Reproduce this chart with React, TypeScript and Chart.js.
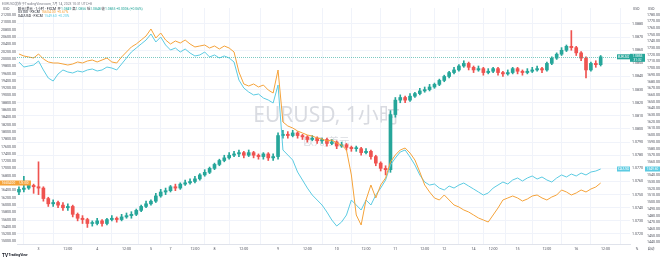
import { useEffect, useRef } from "react";
import { Chart, registerables } from "chart.js";
Chart.register(...registerables);

// ---------- data ----------
const X_TICKS = [4, 10, 16, 22, 27, 31, 36, 40, 46, 53, 59, 65, 71, 77, 83, 87, 93, 97, 102, 108, 114, 120];
const X_LABELS = ["3", "12:00", "4", "12:00", "5", "7", "12:00", "8", "12:00", "9", "12:00", "10", "12:00", "11", "12:00", "12", "14", "12:00", "15", "12:00", "16", "12:00"];

const OPEN = [
  1.0752, 1.0754, 1.0755, 1.0757, 1.0756, 1.0755, 1.0747, 1.0743, 1.0744, 1.0742,
  1.0740, 1.0741, 1.0735, 1.0732, 1.0731, 1.0728, 1.0728, 1.0730, 1.0728, 1.0731,
  1.0732, 1.0731, 1.0733, 1.0734, 1.0735, 1.0738, 1.0741, 1.0743, 1.0745, 1.0749,
  1.0752, 1.0753, 1.0756, 1.0755, 1.0758, 1.0759, 1.0760, 1.0762, 1.0765, 1.0767,
  1.0770, 1.0773, 1.0776, 1.0778, 1.0780, 1.0781, 1.0782, 1.0780, 1.0782, 1.0780,
  1.0779, 1.0781, 1.0778, 1.0779, 1.0795, 1.0796, 1.0795, 1.0797, 1.0795, 1.0794,
  1.0792, 1.0793, 1.0791, 1.0792, 1.0789, 1.0790, 1.0787, 1.0788, 1.0786, 1.0785,
  1.0785, 1.0782, 1.0783, 1.0779, 1.0774, 1.0770, 1.0769, 1.0811, 1.0822, 1.0824,
  1.0822, 1.0825, 1.0827, 1.0829, 1.0830, 1.0832, 1.0834, 1.0837, 1.0840, 1.0843,
  1.0845, 1.0848, 1.0850, 1.0847, 1.0845, 1.0846, 1.0843, 1.0844, 1.0846, 1.0843,
  1.0842, 1.0843, 1.0846, 1.0844, 1.0843, 1.0844, 1.0845, 1.0846, 1.0845, 1.0850,
  1.0854, 1.0857, 1.0860, 1.0863, 1.0862, 1.0858, 1.0854, 1.0845, 1.0850, 1.0849,
];
const CLOSE = [
  1.0754, 1.0755, 1.0757, 1.0756, 1.0755, 1.0747, 1.0743, 1.0744, 1.0742, 1.0740,
  1.0741, 1.0735, 1.0732, 1.0731, 1.0728, 1.0728, 1.0730, 1.0728, 1.0731, 1.0732,
  1.0731, 1.0733, 1.0734, 1.0735, 1.0738, 1.0741, 1.0743, 1.0745, 1.0749, 1.0752,
  1.0753, 1.0756, 1.0755, 1.0758, 1.0759, 1.0760, 1.0762, 1.0765, 1.0767, 1.0770,
  1.0773, 1.0776, 1.0778, 1.0780, 1.0781, 1.0782, 1.0780, 1.0782, 1.0780, 1.0779,
  1.0781, 1.0778, 1.0779, 1.0795, 1.0796, 1.0795, 1.0797, 1.0795, 1.0794, 1.0792,
  1.0793, 1.0791, 1.0792, 1.0789, 1.0790, 1.0787, 1.0788, 1.0786, 1.0785, 1.0785,
  1.0782, 1.0783, 1.0779, 1.0774, 1.0770, 1.0769, 1.0811, 1.0822, 1.0824, 1.0822,
  1.0825, 1.0827, 1.0829, 1.0830, 1.0832, 1.0834, 1.0837, 1.0840, 1.0843, 1.0845,
  1.0848, 1.0850, 1.0847, 1.0845, 1.0846, 1.0843, 1.0844, 1.0846, 1.0843, 1.0842,
  1.0843, 1.0846, 1.0844, 1.0843, 1.0844, 1.0845, 1.0846, 1.0845, 1.0850, 1.0854,
  1.0857, 1.0860, 1.0863, 1.0862, 1.0858, 1.0854, 1.0845, 1.0850, 1.0849, 1.0855,
];
const HIGH = [
  1.0756, 1.0764, 1.0760, 1.0758, 1.0775, 1.0756, 1.0748, 1.0746, 1.0745, 1.0744,
  1.0743, 1.0742, 1.0736, 1.0734, 1.0732, 1.0730, 1.0732, 1.0731, 1.0732, 1.0734,
  1.0733, 1.0735, 1.0736, 1.0737, 1.0739, 1.0742, 1.0745, 1.0746, 1.0751, 1.0754,
  1.0755, 1.0757, 1.0758, 1.0759, 1.0761, 1.0762, 1.0764, 1.0766, 1.0769, 1.0771,
  1.0774, 1.0777, 1.0780, 1.0782, 1.0783, 1.0784, 1.0783, 1.0784, 1.0783, 1.0781,
  1.0782, 1.0782, 1.0781, 1.0797, 1.0799, 1.0798, 1.0799, 1.0798, 1.0796, 1.0795,
  1.0795, 1.0794, 1.0793, 1.0793, 1.0792, 1.0791, 1.0790, 1.0789, 1.0787, 1.0787,
  1.0786, 1.0785, 1.0784, 1.0780, 1.0775, 1.0772, 1.0814, 1.0824, 1.0826, 1.0825,
  1.0827, 1.0828, 1.0831, 1.0832, 1.0834, 1.0835, 1.0838, 1.0841, 1.0844, 1.0847,
  1.0849, 1.0852, 1.0851, 1.0848, 1.0848, 1.0847, 1.0846, 1.0847, 1.0847, 1.0844,
  1.0845, 1.0847, 1.0847, 1.0845, 1.0846, 1.0847, 1.0848, 1.0847, 1.0851, 1.0855,
  1.0858, 1.0862, 1.0864, 1.0875, 1.0863, 1.0859, 1.0855, 1.0851, 1.0852, 1.0856,
];
const LOW = [
  1.0750, 1.0752, 1.0754, 1.0751, 1.0750, 1.0745, 1.0741, 1.0741, 1.0740, 1.0738,
  1.0738, 1.0733, 1.0730, 1.0728, 1.0725, 1.0726, 1.0727, 1.0726, 1.0727, 1.0730,
  1.0729, 1.0730, 1.0732, 1.0732, 1.0734, 1.0737, 1.0740, 1.0742, 1.0744, 1.0748,
  1.0750, 1.0752, 1.0753, 1.0754, 1.0757, 1.0758, 1.0759, 1.0761, 1.0764, 1.0766,
  1.0769, 1.0772, 1.0775, 1.0777, 1.0779, 1.0779, 1.0778, 1.0779, 1.0778, 1.0777,
  1.0777, 1.0776, 1.0776, 1.0777, 1.0793, 1.0793, 1.0794, 1.0793, 1.0792, 1.0790,
  1.0791, 1.0789, 1.0789, 1.0787, 1.0788, 1.0785, 1.0786, 1.0784, 1.0783, 1.0783,
  1.0780, 1.0781, 1.0777, 1.0772, 1.0768, 1.0765, 1.0767, 1.0809, 1.0820, 1.0820,
  1.0821, 1.0824, 1.0826, 1.0828, 1.0829, 1.0831, 1.0833, 1.0836, 1.0839, 1.0842,
  1.0844, 1.0847, 1.0845, 1.0843, 1.0844, 1.0841, 1.0842, 1.0843, 1.0841, 1.0840,
  1.0841, 1.0842, 1.0842, 1.0841, 1.0842, 1.0843, 1.0844, 1.0843, 1.0844, 1.0849,
  1.0853, 1.0856, 1.0859, 1.0860, 1.0856, 1.0852, 1.0839, 1.0844, 1.0847, 1.0848,
];
const ORANGE = [
  20139, 20084, 20057, 20029, 20139, 20002, 19920, 19892, 19892, 19865,
  19837, 19865, 19920, 19892, 19947, 19974, 19920, 19974, 20029, 19920,
  19892, 20057, 20194, 20331, 20413, 20522, 20632, 20824, 20577, 20714,
  20522, 20413, 20495, 20440, 20522, 20413, 20331, 20358, 20385, 20303,
  20358, 20276, 20358, 20303, 20194, 19646, 19317, 19262, 19317, 19235,
  19289, 19152, 19070, 19700, 18276, 18166, 18111, 18029, 17974, 17920,
  17892, 17837, 17810, 17755, 17783, 17700, 17646, 17509, 16824, 15728,
  15454, 16139, 16550, 16194, 16550, 16742, 17180, 17372, 17509, 17563,
  17426, 17235, 16906, 16550, 16358, 16194, 16139, 16276, 16139, 16002,
  15947, 15865, 15810, 15728, 15646, 15591, 15536, 15728, 15920, 16139,
  16194, 16248, 16194, 16111, 16166, 16248, 16276, 16194, 16139, 16221,
  16276, 16413, 16358, 16276, 16331, 16413, 16358, 16440, 16495, 16604,
];
const CYAN = [
  1709.3, 1701.8, 1703.3, 1704.8, 1710.8, 1697.4, 1685.4, 1680.9, 1691.4, 1697.4,
  1694.4, 1692.9, 1695.9, 1694.4, 1697.4, 1698.9, 1695.9, 1697.4, 1701.8, 1700.3,
  1697.4, 1706.3, 1715.3, 1724.2, 1730.2, 1736.2, 1742.1, 1751.1, 1739.2, 1746.6,
  1734.7, 1727.2, 1730.2, 1724.2, 1728.7, 1722.7, 1718.3, 1719.8, 1724.2, 1716.8,
  1719.8, 1715.3, 1718.3, 1715.3, 1709.3, 1682.4, 1670.5, 1664.5, 1660.1, 1661.5,
  1655.6, 1652.6, 1648.1, 1675.0, 1578.0, 1570.5, 1563.0, 1545.1, 1533.2, 1521.2,
  1510.8, 1503.3, 1495.9, 1485.4, 1473.5, 1464.5, 1470.5, 1481.0, 1503.3, 1495.9,
  1488.4, 1503.3, 1495.9, 1510.8, 1521.2, 1533.2, 1555.6, 1566.0, 1575.0, 1578.0,
  1567.5, 1555.6, 1540.7, 1530.2, 1525.7, 1527.2, 1521.2, 1518.3, 1524.2, 1521.2,
  1525.7, 1528.7, 1524.2, 1519.8, 1515.3, 1510.8, 1513.8, 1521.2, 1525.7, 1530.2,
  1527.2, 1533.2, 1536.2, 1531.7, 1536.2, 1539.2, 1534.7, 1537.7, 1533.2, 1530.2,
  1536.2, 1540.7, 1537.7, 1542.1, 1539.2, 1543.6, 1540.7, 1545.1, 1546.6, 1549.6,
];
const EUR_TICKS = [1.088, 1.087, 1.086, 1.085, 1.084, 1.083, 1.082, 1.081, 1.08, 1.079, 1.078, 1.077, 1.076, 1.075, 1.074, 1.073, 1.072];
const LEFT_TICKS = [21200, 21000, 20800, 20600, 20400, 20200, 20000, 19800, 19600, 19400, 19200, 19000, 18800, 18600, 18400, 18200, 18000, 17800, 17600, 17400, 17200, 17000, 16800, 16600, 16400, 16200, 16000, 15800, 15600, 15400, 15200, 15000];
const RIGHT_TICKS = [1780, 1770, 1760, 1750, 1740, 1730, 1720, 1710, 1700, 1690, 1680, 1670, 1660, 1650, 1640, 1630, 1620, 1610, 1600, 1590, 1580, 1570, 1560, 1550, 1540, 1530, 1520, 1510, 1500, 1490, 1480, 1470, 1460, 1450, 1440];

const WATERMARK = "EURUSD, 1小时";
const WATERMARK_SUB = "欧元/美元";
const HEADER = "EURUSD发布于TradingView.com, 7月 14, 2023 10:31 UTC+8";
const SYMBOL_MAIN = "欧元/美元 · 1小时 · FXCM";
const SYMBOL_ORANGE = "US100 · FXCM";
const SYMBOL_CYAN = "XAUUSD · FXCM";

// ---------- style ----------
const UP = "#26a69a";
const DOWN = "#ef5350";
const ORANGE_C = "#f5a33a";
const CYAN_C = "#5ccbe2";
const FONT = 'Roboto, "Noto Sans CJK SC", sans-serif';
const AXIS_TXT = "#50535e";
const GRID = "#f0f3fa";

export default function App() {
  const ref = useRef<HTMLCanvasElement>(null);
  useEffect(() => {
    document.body.style.margin = "0";
    document.body.style.overflow = "hidden";
    const colors = CLOSE.map((c, i) => (c >= OPEN[i] ? UP : DOWN));
    const n = CLOSE.length;

    const box = (ctx: CanvasRenderingContext2D, x: number, y: number, w: number, h: number, fill: string, lines: string[], size: number) => {
      ctx.fillStyle = fill;
      ctx.fillRect(x, y, w, h);
      ctx.fillStyle = "#ffffff";
      ctx.font = `${size}px ${FONT}`;
      ctx.textAlign = "center";
      ctx.textBaseline = "middle";
      const lh = h / lines.length;
      lines.forEach((t, k) => ctx.fillText(t, x + w / 2, y + lh * (k + 0.5)));
    };
    const segs = (ctx: CanvasRenderingContext2D, x: number, y: number, parts: [string, string][]) => {
      ctx.textAlign = "left";
      ctx.textBaseline = "middle";
      for (const [t, c] of parts) {
        ctx.fillStyle = c;
        ctx.fillText(t, x, y);
        x += ctx.measureText(t).width;
      }
    };

    const decor = {
      id: "decor",
      beforeDatasetsDraw(chart: any) {
        const { ctx, chartArea: a } = chart;
        const cx = (a.left + a.right) / 2 + 3;
        const cy = (a.top + a.bottom) / 2;
        ctx.save();
        ctx.fillStyle = "#d9dbe1";
        ctx.textAlign = "center";
        ctx.textBaseline = "middle";
        ctx.font = `21px "Noto Sans", "Noto Sans CJK SC", sans-serif`;
        ctx.fillText(WATERMARK, cx, cy - 10);
        ctx.font = `10.5px "Noto Sans CJK SC", sans-serif`;
        ctx.fillText(WATERMARK_SUB, cx, cy + 15);
        ctx.restore();
      },
      afterDatasetsDraw(chart: any) {
        const { ctx, chartArea: a, scales } = chart;
        const yv = Math.round(scales.yE.getPixelForValue(CLOSE[n - 1])) + 0.5;
        ctx.save();
        ctx.strokeStyle = "rgba(38,166,154,0.6)";
        ctx.lineWidth = 1;
        ctx.setLineDash([1, 1]);
        ctx.beginPath();
        ctx.moveTo(a.left, yv);
        ctx.lineTo(a.right, yv);
        ctx.stroke();
        ctx.restore();
      },
      afterDraw(chart: any) {
        const { ctx, chartArea: a, scales } = chart;
        const { yE, yR, yL } = scales;
        ctx.save();
        // axis value boxes
        const last = CLOSE[n - 1];
        const ye = yE.getPixelForValue(last);
        const col = last >= OPEN[n - 1] ? UP : DOWN;
        box(ctx, a.right - 13, ye - 2.5, 13, 5, col, ["EURUSD"], 3);
        box(ctx, yE.left, ye - 3, yE.width, 8, col, [last.toFixed(4), "31:32"], 3.2);
        const yc = yR.getPixelForValue(CYAN[n - 1]);
        box(ctx, a.right - 13, yc - 2.5, 13, 5, CYAN_C, ["XAUUSD"], 3);
        box(ctx, yR.left, yc - 2.5, yR.width, 5, CYAN_C, [CYAN[n - 1].toFixed(2)], 3.2);
        const yo = yL.getPixelForValue(ORANGE[n - 1]);
        box(ctx, 0, yo - 2.5, yL.width, 5, ORANGE_C, [ORANGE[n - 1].toFixed(2)], 3.2);
        box(ctx, yL.width, yo - 2.5, 14, 5, ORANGE_C, ["US100"], 3);

        // header
        ctx.font = `3.4px ${FONT}`;
        segs(ctx, 2, 4, [[HEADER, "#787b86"]]);
        const o = OPEN[n - 1], h = HIGH[n - 1], l = LOW[n - 1], c = CLOSE[n - 1];
        const ch = c - CLOSE[n - 2];
        const dark = "#131722";
        segs(ctx, 18, 9, [
          [SYMBOL_MAIN, dark], ["  开", dark], [o.toFixed(4), UP], [" 高", dark], [h.toFixed(4), UP],
          [" 低", dark], [l.toFixed(4), UP], [" 收", dark], [c.toFixed(4), UP],
          [` ${ch >= 0 ? "+" : ""}${ch.toFixed(4)} (${ch >= 0 ? "+" : ""}${((ch / CLOSE[n - 2]) * 100).toFixed(2)}%)`, UP],
        ]);
        segs(ctx, 18, 12.6, [[SYMBOL_ORANGE + "  ", dark], [ORANGE[n - 1].toFixed(2) + "  +0.67%", ORANGE_C]]);
        segs(ctx, 18, 16.2, [[SYMBOL_CYAN + "  ", dark], [CYAN[n - 1].toFixed(2) + "  +0.20%", CYAN_C]]);
        // unit labels
        ctx.font = `3.4px ${FONT}`;
        ctx.fillStyle = AXIS_TXT;
        ctx.textAlign = "left";
        ctx.fillText("USD", 3, 9);
        ctx.fillText("USD", yE.left + 3, 9);
        ctx.fillText("USD", yR.left + 3, 9);
        // bottom right buttons
        ctx.textAlign = "center";
        ctx.fillText("%", yE.left + 7, 249);
        ctx.fillText("自动", yR.left + 6, 249);
        // logo
        ctx.fillStyle = "#131722";
        ctx.textAlign = "left";
        ctx.font = `bold 4.6px ${FONT}`;
        ctx.fillText("TV", 2, 255.5);
        ctx.font = `bold 3.4px ${FONT}`;
        ctx.fillText("TradingView", 8.5, 255.5);
        ctx.restore();
      },
    };

    const tickFont = { size: 3.6, family: FONT };
    const chart = new Chart(ref.current as HTMLCanvasElement, {
      type: "bar",
      data: {
        datasets: [
          {
            type: "line",
            data: ORANGE.map((v, i) => ({ x: i, y: v })),
            borderColor: ORANGE_C,
            borderWidth: 1,
            pointRadius: 0,
            tension: 0,
            yAxisID: "yL",
            order: 0,
          } as any,
          {
            type: "line",
            data: CYAN.map((v, i) => ({ x: i, y: v })),
            borderColor: CYAN_C,
            borderWidth: 1,
            pointRadius: 0,
            tension: 0,
            yAxisID: "yR",
            order: 0,
          } as any,
          {
            type: "bar",
            data: CLOSE.map((_, i) => ({ x: i, y: [LOW[i], HIGH[i]] })),
            backgroundColor: colors,
            barThickness: 1,
            grouped: false,
            yAxisID: "yE",
            order: 2,
          } as any,
          {
            type: "bar",
            data: CLOSE.map((c, i) => ({ x: i, y: [OPEN[i], c] })),
            backgroundColor: colors,
            barThickness: 3,
            minBarLength: 1,
            grouped: false,
            yAxisID: "yE",
            order: 1,
          } as any,
        ],
      },
      options: {
        animation: false,
        responsive: false,
        devicePixelRatio: 1,
        events: [],
        layout: { padding: { top: 8, left: 0, right: 0, bottom: 0 } },
        plugins: { legend: { display: false }, tooltip: { enabled: false } },
        scales: {
          x: {
            type: "linear",
            min: -0.4,
            max: 125,
            offset: false,
            afterBuildTicks: (s: any) => {
              s.ticks = X_TICKS.map((v) => ({ value: v }));
            },
            afterFit: (s: any) => {
              s.height = 16;
            },
            ticks: {
              autoSkip: false,
              maxRotation: 0,
              padding: 3,
              font: tickFont,
              color: AXIS_TXT,
              callback: (_v: any, i: number) => X_LABELS[i] ?? "",
            },
            grid: { color: GRID, drawTicks: false },
            border: { display: true, color: "#e0e3eb" },
          },
          yE: {
            type: "linear",
            position: "right",
            weight: 0,
            min: 1.071238,
            max: 1.089219,
            afterBuildTicks: (s: any) => {
              s.ticks = EUR_TICKS.map((v) => ({ value: v }));
            },
            afterFit: (s: any) => {
              s.width = 15;
            },
            ticks: { autoSkip: false, padding: 2, font: tickFont, color: AXIS_TXT, callback: (v: any) => Number(v).toFixed(4) },
            grid: { color: GRID, drawTicks: false },
            border: { display: false },
          },
          yR: {
            type: "linear",
            position: "right",
            weight: 1,
            min: 1437.7,
            max: 1789.9,
            afterBuildTicks: (s: any) => {
              s.ticks = RIGHT_TICKS.map((v) => ({ value: v }));
            },
            afterFit: (s: any) => {
              s.width = 15;
            },
            ticks: { autoSkip: false, padding: 2, font: tickFont, color: AXIS_TXT, callback: (v: any) => Number(v).toFixed(2) },
            grid: { display: false, drawTicks: false },
            border: { display: false },
          },
          yL: {
            type: "linear",
            position: "left",
            min: 14933.3,
            max: 21399,
            afterBuildTicks: (s: any) => {
              s.ticks = LEFT_TICKS.map((v) => ({ value: v }));
            },
            afterFit: (s: any) => {
              s.width = 17;
            },
            ticks: { autoSkip: false, padding: 1, font: tickFont, color: AXIS_TXT, callback: (v: any) => Number(v).toFixed(2) },
            grid: { display: false, drawTicks: false },
            border: { display: false },
          },
        },
      } as any,
      plugins: [decor],
    });
    return () => chart.destroy();
  }, []);
  return <canvas ref={ref} width={660} height={260} style={{ display: "block" }} />;
}
